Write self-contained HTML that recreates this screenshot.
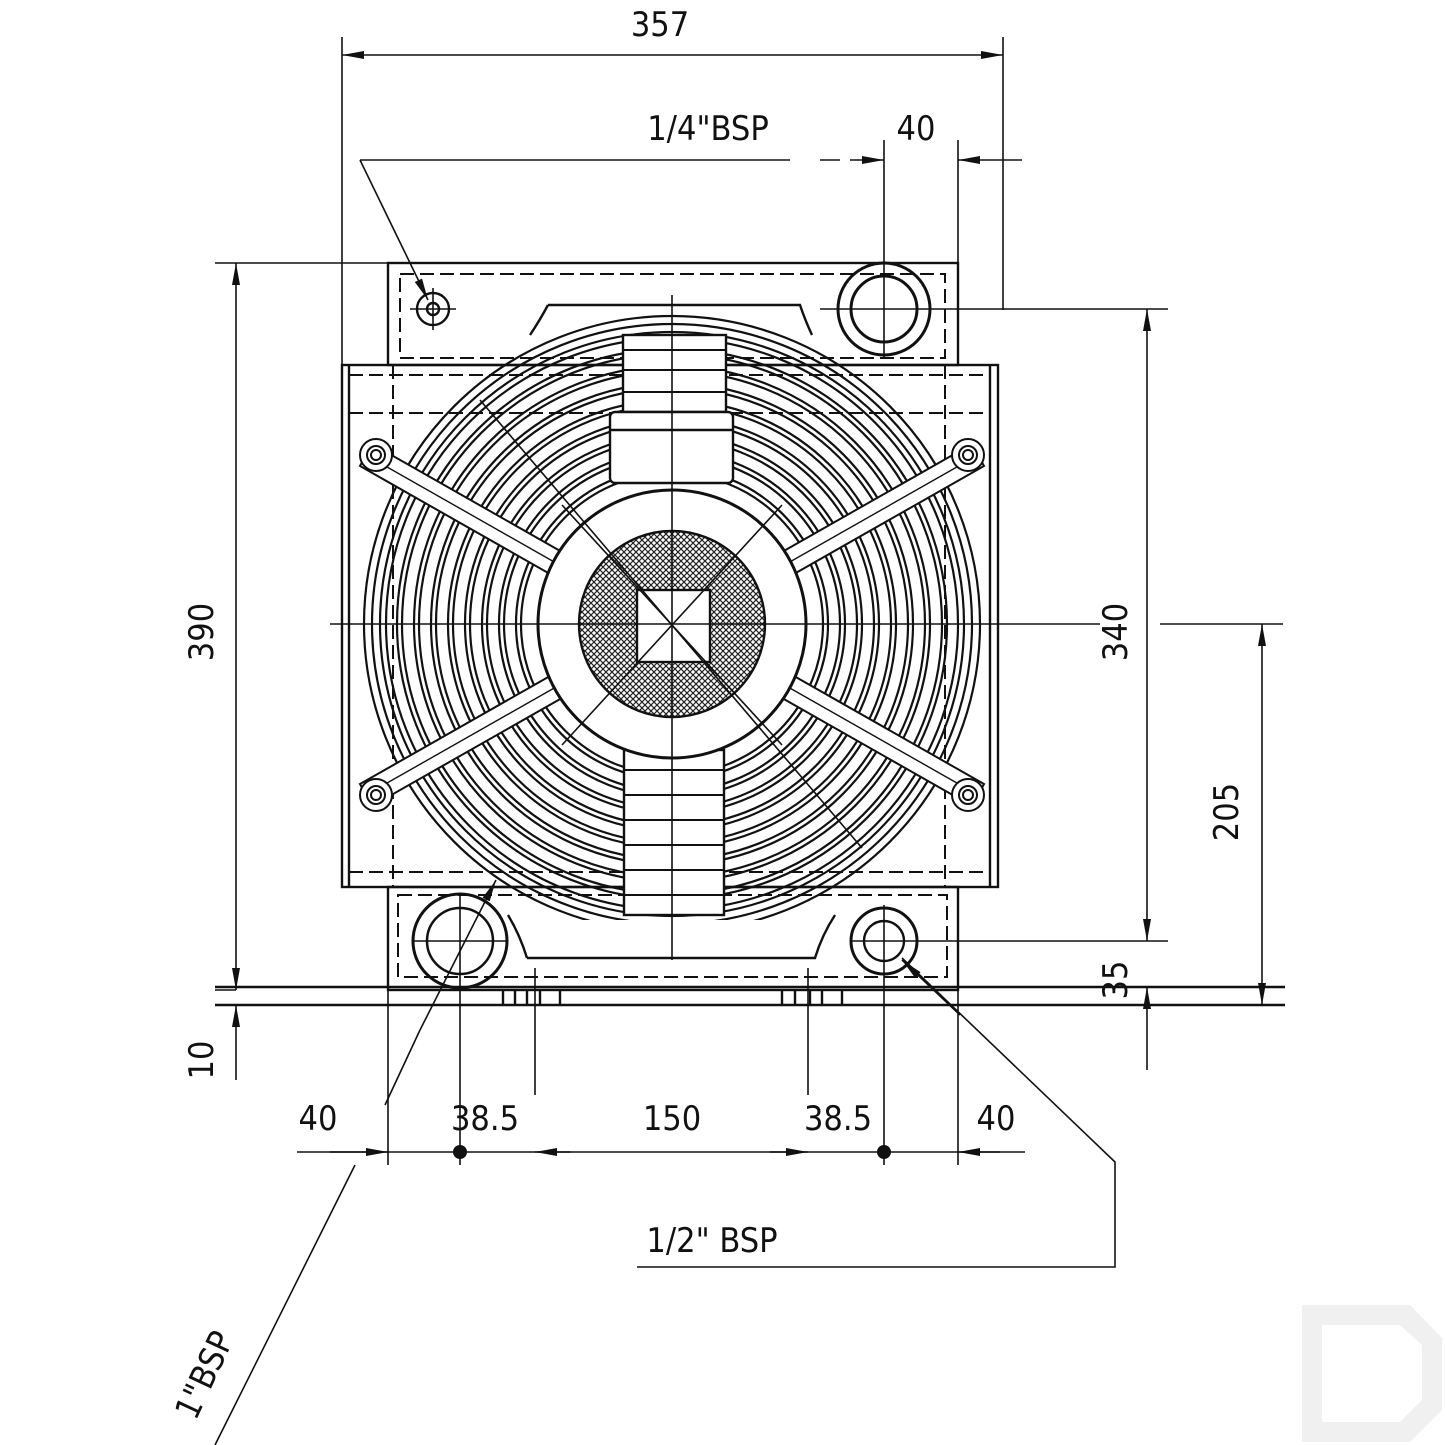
<!DOCTYPE html>
<html><head><meta charset="utf-8"><style>
html,body{margin:0;padding:0;background:#fff}
svg{display:block}
text{font-family:"DejaVu Sans Condensed","Liberation Sans",sans-serif;font-size:34px;fill:#111}
</style></head><body>
<svg width="1445" height="1445" viewBox="0 0 1445 1445" xmlns="http://www.w3.org/2000/svg">
<defs>
<pattern id="h" width="6" height="6" patternUnits="userSpaceOnUse">
<path d="M0 0L6 6M6 0L0 6" stroke="#222" stroke-width="1.2"/></pattern>
<marker id="a" viewBox="0 0 10 10" refX="10" refY="5" markerWidth="22" markerHeight="8" orient="auto-start-reverse" markerUnits="userSpaceOnUse" preserveAspectRatio="none"><path d="M0 0L10 5L0 10z" fill="#111"/></marker>
<clipPath id="c"><rect x="342" y="300" width="656" height="620"/></clipPath>
</defs>
<path d="M1302 1305H1410L1442 1338V1410L1410 1442H1302Z M1322 1325V1422H1400L1422 1400V1345L1400 1325Z" fill="#f0f0f0" fill-rule="evenodd"/>
<g fill="none" stroke="#111" stroke-width="2.4">
<rect x="388" y="263" width="570" height="102"/>
<rect x="400" y="274" width="545" height="84" stroke-dasharray="14 6" stroke-width="2"/>
<rect x="388" y="887" width="570" height="103"/>
<rect x="398" y="895" width="549" height="82" stroke-dasharray="14 6" stroke-width="2"/>
<rect x="342" y="365" width="656" height="522"/>
<line x1="349" y1="365" x2="349" y2="887"/>
<line x1="990" y1="365" x2="990" y2="887"/>
<g stroke-dasharray="14 6" stroke-width="2">
<line x1="349" y1="375" x2="990" y2="375"/>
<line x1="349" y1="413" x2="990" y2="413"/>
<line x1="349" y1="872" x2="990" y2="872"/>
<line x1="393" y1="365" x2="393" y2="887"/>
<line x1="945" y1="365" x2="945" y2="887"/>
</g>
<line x1="215" y1="987" x2="1285" y2="987"/>
<line x1="215" y1="1005" x2="1285" y2="1005"/>
<path d="M503 1005V990M515 1005V990M527 1005V990M540 1005V990M560 1005V990"/>
<path d="M782 1005V990M795 1005V990M810 1005V990M822 1005V990M842 1005V990"/>
<path d="M548 305H800Q805 320 812 335"/>
<path d="M548 305Q540 320 530 335"/>
<path d="M527 958H815Q822 935 835 915"/>
<path d="M527 958Q520 935 508 915"/>
<g clip-path="url(#c)" stroke-width="2.2">
<circle cx="672" cy="624" r="308"/><circle cx="672" cy="624" r="300"/>
<circle cx="672" cy="624" r="292"/><circle cx="672" cy="624" r="286"/>
<circle cx="672" cy="624" r="275"/><circle cx="672" cy="624" r="270"/>
<circle cx="672" cy="624" r="258"/><circle cx="672" cy="624" r="253"/>
<circle cx="672" cy="624" r="241"/><circle cx="672" cy="624" r="236"/>
<circle cx="672" cy="624" r="224"/><circle cx="672" cy="624" r="219"/>
<circle cx="672" cy="624" r="207"/><circle cx="672" cy="624" r="202"/>
<circle cx="672" cy="624" r="190"/><circle cx="672" cy="624" r="185"/>
<circle cx="672" cy="624" r="173"/><circle cx="672" cy="624" r="168"/>
<circle cx="672" cy="624" r="156"/><circle cx="672" cy="624" r="151"/>
</g>
<rect x="623" y="335" width="103" height="77" fill="#fff"/>
<rect x="624" y="750" width="100" height="165" fill="#fff"/>
<g stroke-width="2">
<path d="M623 350H726M623 370H726M623 392H726M624 770H724M624 795H724M624 820H724M624 845H724M624 870H724M624 895H724"/>
</g>
<rect x="610" y="412" width="123" height="71" rx="5" fill="#fff"/>
<line x1="610" y1="430" x2="733" y2="430"/>
<g stroke-width="2" fill="#fff">
<path d="M372 444L562 552L550 574L360 466Z"/>
<path d="M972 444L782 552L794 574L984 466Z"/>
<path d="M372 806L562 698L550 676L360 784Z"/>
<path d="M972 806L782 698L794 676L984 784Z"/>
<path d="M366 455L556 563M978 455L788 563M366 795L556 687M978 795L788 687" stroke-width="1.4"/>
</g>
<g stroke-width="2">
<circle cx="376" cy="455" r="16" fill="#fff"/><circle cx="376" cy="455" r="9"/><circle cx="376" cy="455" r="5"/>
<circle cx="968" cy="455" r="16" fill="#fff"/><circle cx="968" cy="455" r="9"/><circle cx="968" cy="455" r="5"/>
<circle cx="376" cy="795" r="16" fill="#fff"/><circle cx="376" cy="795" r="9"/><circle cx="376" cy="795" r="5"/>
<circle cx="968" cy="795" r="16" fill="#fff"/><circle cx="968" cy="795" r="9"/><circle cx="968" cy="795" r="5"/>
</g>
<circle cx="672" cy="624" r="134" fill="#fff" stroke-width="3"/>
<circle cx="672" cy="624" r="93" fill="url(#h)"/>
<rect x="637" y="590" width="73" height="72" fill="#fff"/>
<circle cx="884" cy="309" r="46" stroke-width="3"/><circle cx="884" cy="309" r="33" stroke-width="3"/>
<circle cx="433" cy="309" r="16"/><circle cx="433" cy="309" r="6"/>
<circle cx="460" cy="941" r="47" stroke-width="3"/><circle cx="460" cy="941" r="33" stroke-width="2.5"/>
<circle cx="884" cy="941" r="33" stroke-width="3"/><circle cx="884" cy="941" r="20"/>
<g stroke-width="1.6">
<line x1="330" y1="624" x2="1100" y2="624"/>
<line x1="672" y1="295" x2="672" y2="960"/>
<line x1="562" y1="505" x2="782" y2="745"/>
<line x1="782" y1="505" x2="562" y2="745"/>
<line x1="480" y1="400" x2="862" y2="848"/>
<path d="M410 309H456M433 288V330M820 309H1168M884 140V357M884 905V1165M850 941H1168M460 895V1165M412 941H508"/>
</g>
<g stroke-width="1.6">
<path d="M342 37V365M1003 37V310"/>
<line x1="342" y1="55" x2="1003" y2="55" marker-start="url(#a)" marker-end="url(#a)"/>
<path d="M958 140V263"/>
<path d="M820 160H840"/>
<line x1="850" y1="160" x2="884" y2="160" marker-end="url(#a)"/>
<line x1="1022" y1="160" x2="958" y2="160" marker-end="url(#a)"/>
<line x1="360" y1="160" x2="790" y2="160"/>
<line x1="360" y1="160" x2="428" y2="300" marker-end="url(#a)"/>
<path d="M215 263H430M215 990H236"/>
<line x1="236" y1="263" x2="236" y2="990" marker-start="url(#a)" marker-end="url(#a)"/>
<line x1="236" y1="1005" x2="236" y2="1080" marker-start="url(#a)"/>
<line x1="1147" y1="309" x2="1147" y2="941" marker-start="url(#a)" marker-end="url(#a)"/>
<line x1="1147" y1="987" x2="1147" y2="1070" marker-start="url(#a)"/>
<line x1="1262" y1="624" x2="1262" y2="1005" marker-start="url(#a)" marker-end="url(#a)"/>
<path d="M1160 624H1283"/>
<path d="M388 990V1165M535 968V1095M808 968V1095M958 990V1165"/>
<line x1="297" y1="1152" x2="1025" y2="1152"/>
<line x1="330" y1="1152" x2="388" y2="1152" marker-end="url(#a)"/>
<line x1="570" y1="1152" x2="535" y2="1152" marker-end="url(#a)"/>
<line x1="770" y1="1152" x2="808" y2="1152" marker-end="url(#a)"/>
<line x1="1000" y1="1152" x2="958" y2="1152" marker-end="url(#a)"/>
<path d="M637 1267H1115V1162L902 958"/>
<line x1="960" y1="1015" x2="902" y2="960" marker-end="url(#a)"/>
<path d="M215 1445L355 1165M385 1105L420 1030"/>
<line x1="420" y1="1030" x2="496" y2="880" marker-end="url(#a)"/>
</g>
</g>
<circle cx="460" cy="1152" r="7" fill="#111"/>
<circle cx="884" cy="1152" r="7" fill="#111"/>
<text x="660" y="36" text-anchor="middle">357</text>
<text x="708" y="140" text-anchor="middle">1/4"BSP</text>
<text x="916" y="140" text-anchor="middle">40</text>
<text x="318" y="1130" text-anchor="middle">40</text>
<text x="485" y="1130" text-anchor="middle">38.5</text>
<text x="672" y="1130" text-anchor="middle">150</text>
<text x="838" y="1130" text-anchor="middle">38.5</text>
<text x="996" y="1130" text-anchor="middle">40</text>
<text x="712" y="1252" text-anchor="middle">1/2" BSP</text>
<text transform="translate(213,632) rotate(-90)" text-anchor="middle">390</text>
<text transform="translate(213,1060) rotate(-90)" text-anchor="middle">10</text>
<text transform="translate(1127,632) rotate(-90)" text-anchor="middle">340</text>
<text transform="translate(1238,812) rotate(-90)" text-anchor="middle">205</text>
<text transform="translate(1127,980) rotate(-90)" text-anchor="middle">35</text>
<text transform="translate(215,1380) rotate(-65)" text-anchor="middle">1"BSP</text>
</svg>
</body></html>
